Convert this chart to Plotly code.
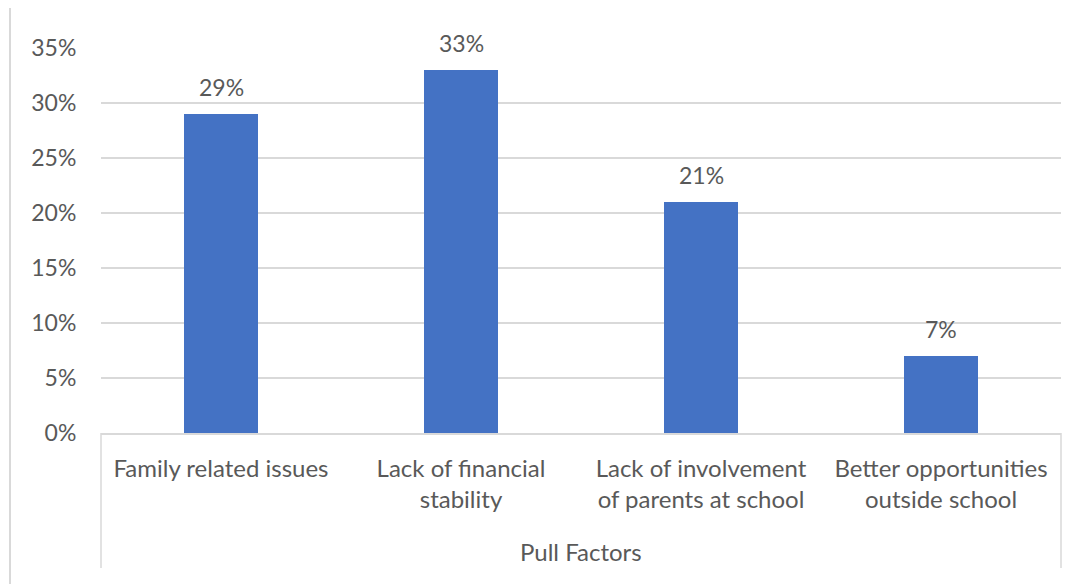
import plotly.graph_objects as go

categories = ["Family related issues", "Lack of financial<br>stability",
              "Lack of involvement<br>of parents at school", "Better opportunities<br>outside school"]
values = [0.29, 0.33, 0.21, 0.07]
value_labels = ["29%", "33%", "21%", "7%"]
group_label = "Pull Factors"
y_ticks = [0, 0.05, 0.10, 0.15, 0.20, 0.25, 0.30, 0.35]
y_tick_labels = ["0%", "5%", "10%", "15%", "20%", "25%", "30%", "35%"]

FONT = "Lato"
FS = 23
FS_CAT = 24
GRAY = "#595959"
LINE = "#d9d9d9"

# page has an 8px body margin; figure coordinates = page coordinates - 8
OFF = 8
W, H = 1082 - OFF, 584 - OFF
L, R, T, B = 101 - OFF, 1082 - 1061, 48 - OFF, 584 - 433
pw, ph = W - L - R, H - T - B

def px_x(x):
    return (x - OFF - L) / pw

def px_y(y):
    return (H - B - (y - OFF)) / ph

x_pos = list(range(len(categories)))

fig = go.Figure()
fig.add_trace(go.Bar(x=x_pos, y=values, width=0.31, marker=dict(color="#4472C4", line=dict(width=0)),
                     hoverinfo="skip"))

for xp, v, t in zip(x_pos, values, value_labels):
    fig.add_annotation(x=xp, y=v, text=t, showarrow=False, yanchor="bottom", yshift=11,
                       font=dict(family=FONT, size=FS, color=GRAY))

fig.add_annotation(x=0.5, xref="paper", y=px_y(551), yref="paper", yanchor="middle",
                   text=group_label, showarrow=False,
                   font=dict(family=FONT, size=FS_CAT, color=GRAY))

shapes = []
for xx in (101, 1061):
    shapes.append(dict(type="line", xref="paper", yref="paper", x0=px_x(xx), x1=px_x(xx),
                       y0=px_y(433), y1=px_y(568), line=dict(color=LINE, width=1.5)))
shapes.append(dict(type="line", xref="paper", yref="paper", x0=px_x(10), x1=px_x(10),
                   y0=px_y(8), y1=px_y(584), line=dict(color=LINE, width=2)))
fig.update_layout(shapes=shapes)

fig.update_layout(
    width=W, height=H,
    margin=dict(l=L, r=R, t=T, b=B, pad=0),
    plot_bgcolor="white", paper_bgcolor="white",
    showlegend=False,
    bargap=0,
    font=dict(family=FONT, size=FS, color=GRAY),
    xaxis=dict(range=[-0.5, 3.5], tickmode="array", tickvals=x_pos, ticktext=categories,
               showgrid=False, zeroline=False, showline=True, linecolor=LINE, linewidth=1.5,
               ticks="outside", ticklen=13, tickcolor="rgba(0,0,0,0)",
               tickfont=dict(family=FONT, size=FS_CAT, color=GRAY)),
    yaxis=dict(range=[0, 0.35], tickmode="array", tickvals=y_ticks, ticktext=y_tick_labels,
               showgrid=True, gridcolor=LINE, gridwidth=1.5, zeroline=False, showline=False,
               ticks="outside", ticklen=19, tickcolor="rgba(0,0,0,0)",
               tickfont=dict(family=FONT, size=FS, color=GRAY)),
)

fig.write_html("out.html")
